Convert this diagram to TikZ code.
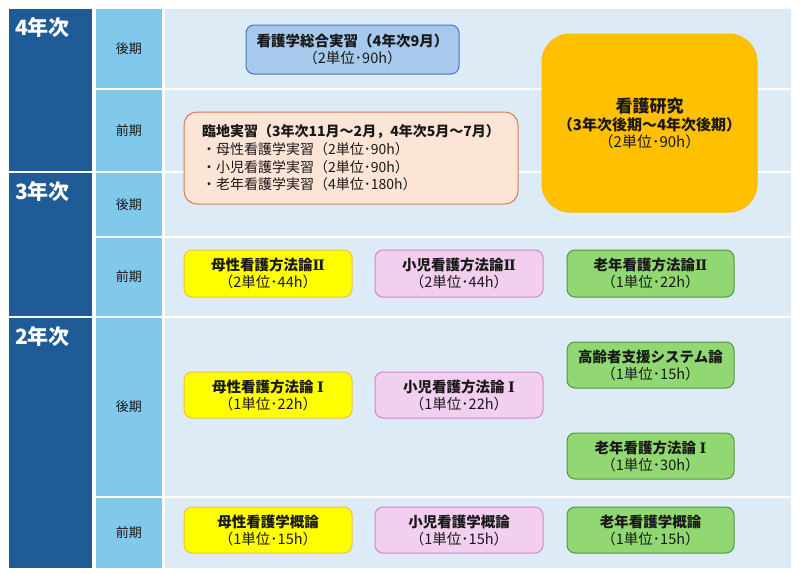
\documentclass[tikz,border=0pt]{standalone}
\usepackage{fontspec}
\setmainfont{Noto Sans CJK JP}
\newfontfamily\romanfont{DejaVu Serif}
\newcommand{\romtwo}{{\romanfont Ⅱ}}
\newcommand{\romone}{\hspace{0.25em}{\romanfont Ⅰ}}
\usetikzlibrary{positioning,calc}
\definecolor{yearblue}{RGB}{31,91,150}
\definecolor{semblue}{RGB}{128,201,234}
\definecolor{rowblue}{RGB}{221,235,247}
\definecolor{txtgray}{RGB}{25,25,25}
\definecolor{sogofill}{RGB}{166,201,236}
\definecolor{sogoline}{RGB}{72,120,185}
\definecolor{rinchifill}{RGB}{252,228,214}
\definecolor{rinchiline}{RGB}{212,125,78}
\definecolor{kenkyufill}{RGB}{255,192,0}
\definecolor{boseifill}{RGB}{255,255,0}
\definecolor{boseiline}{RGB}{245,192,70}
\definecolor{shonifill}{RGB}{242,206,239}
\definecolor{shoniline}{RGB}{218,130,208}
\definecolor{ronenfill}{RGB}{146,216,114}
\definecolor{ronenline}{RGB}{84,150,62}

\begin{document}
\begin{tikzpicture}[
            x=1pt, y=-1pt,
            yearcell/.style={draw=white, line width=1.5pt, fill=yearblue, anchor=north west, minimum width=85},
            yearlabel/.style={anchor=north west, text=white, font=\fontsize{21}{24}\selectfont\bfseries, inner sep=0pt},
            semcell/.style={draw=white, line width=1.5pt, fill=semblue, anchor=north west, minimum width=68, text=txtgray, font=\fontsize{13}{15}\selectfont},
            rowcell/.style={draw=white, line width=1.5pt, fill=rowblue, anchor=north west, minimum width=628},
            course/.style={draw, rounded corners=8pt, line width=1pt, minimum width=168, minimum height=46, align=center, text=txtgray, font=\fontsize{14.5}{17}\selectfont, inner sep=2pt},
            bosei/.style={course, fill=boseifill, draw=boseiline},
            shoni/.style={course, fill=shonifill, draw=shoniline},
            ronen/.style={course, fill=ronenfill, draw=ronenline}
        ]
        
        % page
        \useasboundingbox (0,0) rectangle (800,573);
        \fill[white] (0,0) rectangle (800,573);
        
        % Year column
        \node[yearcell, minimum height=164] (y4) at (7,7) {};
        \node[yearcell, minimum height=145] (y3) at (7,171) {};
        \node[yearcell, minimum height=252] (y2) at (7,316) {};
        \node[yearlabel] at ($(y4.north west) + (8,10)$) {4年次};
        \node[yearlabel] at ($(y3.north west) + (8,10)$) {3年次};
        \node[yearlabel] at ($(y2.north west) + (8,10)$) {2年次};
        
        % Semester column
        \node[semcell, minimum height=81] (s4b) at (94,7) {後期};
        \node[semcell, minimum height=83] (s4a) at (94,88) {前期};
        \node[semcell, minimum height=65] (s3b) at (94,171) {後期};
        \node[semcell, minimum height=80] (s3a) at (94,236) {前期};
        \node[semcell, minimum height=180] (s2b) at (94,316) {後期};
        \node[semcell, minimum height=72] (s2a) at (94,496) {前期};
        
        % Rows
        \node[rowcell, minimum height=81] (r4b) at (163,7) {};
        \node[rowcell, minimum height=83] (r4a) at (163,88) {};
        \node[rowcell, minimum height=65] (r3b) at (163,171) {};
        \node[rowcell, minimum height=80] (r3a) at (163,236) {};
        \node[rowcell, minimum height=180] (r2b) at (163,316) {};
        \node[rowcell, minimum height=72] (r2a) at (163,496) {};
        
        % 4th year practicum
        \node[course, fill=sogofill, draw=sogoline, minimum width=213, minimum height=49] (sogo) at (352.5,49.5)
        {\textbf{看護学総合実習（4年次9月）}\\（2単位･90h）};
        
        % Clinical practicum
        \node[course, fill=rinchifill, draw=rinchiline, rounded corners=13pt, minimum width=334, minimum height=92, align=left,
              font=\fontsize{14}{17.7}\selectfont] (rinchi) at (351,158)
        {\textbf{臨地実習（3年次11月～2月，4年次5月～7月）}\\
         ・母性看護学実習（2単位･90h）\\
         ・小児看護学実習（2単位･90h）\\
         ・老年看護学実習（4単位･180h）};
        
        % Research
        \node[course, fill=kenkyufill, draw=kenkyufill!90!orange, rounded corners=28pt, minimum width=215, minimum height=178,
              font=\fontsize{15}{17}\selectfont] (kenkyu) at (649.5,123)
        {{\fontsize{17}{22}\selectfont\bfseries 看護研究}\\[1pt]
         \textbf{（3年次後期～4年次後期）}\\
         （2単位･90h）};
        
        % 3rd year, first half
        \node[bosei, minimum height=47] (bosei2) at (268,273.5) {\textbf{母性看護方法論\romtwo}\\（2単位･44h）};
        \node[shoni, minimum height=47] (shoni2) at (459,273.5) {\textbf{小児看護方法論\romtwo}\\（2単位･44h）};
        \node[ronen, minimum height=47, minimum width=167] (ronen2) at (650.5,273.5) {\textbf{老年看護方法論\romtwo}\\（1単位･22h）};
        
        % 2nd year, second half
        \node[bosei] (bosei1) at (268,395) {\textbf{母性看護方法論\romone}\\（1単位･22h）};
        \node[shoni] (shoni1) at (459,395) {\textbf{小児看護方法論\romone}\\（1単位･22h）};
        \node[ronen, minimum width=167] (koreisha) at (650.5,365) {\textbf{高齢者支援システム論}\\（1単位･15h）};
        \node[ronen, minimum width=167] (ronen1) at (650.5,456) {\textbf{老年看護方法論\romone}\\（1単位･30h）};
        
        % 2nd year, first half
        \node[bosei] (boseig) at (268,530) {\textbf{母性看護学概論}\\（1単位･15h）};
        \node[shoni] (shonig) at (459,530) {\textbf{小児看護学概論}\\（1単位･15h）};
        \node[ronen, minimum width=167] (roneng) at (650.5,530) {\textbf{老年看護学概論}\\（1単位･15h）};
        
        \end{tikzpicture}
\end{document}
